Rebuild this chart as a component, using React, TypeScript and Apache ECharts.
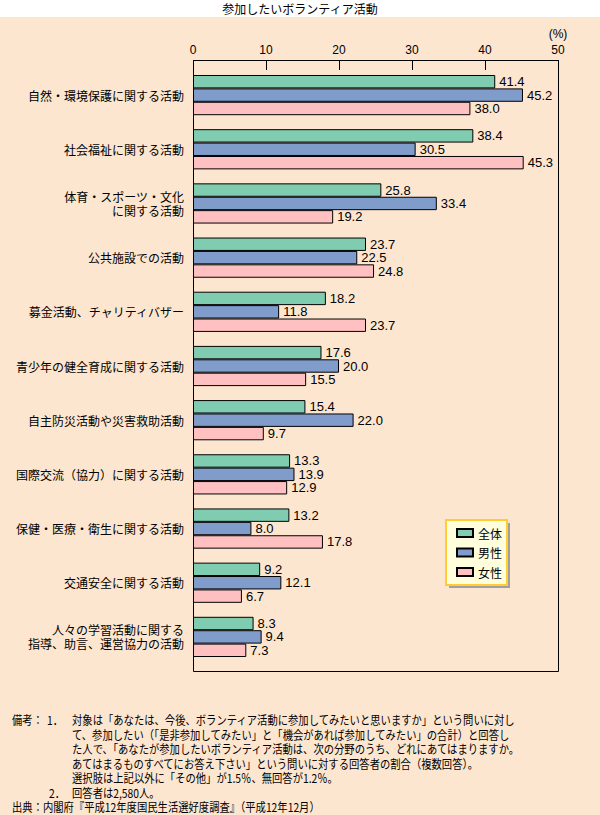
import React, { useEffect, useRef } from "react";
import * as echarts from "echarts";

const categories = [
  "自然・環境保護に関する活動",
  "社会福祉に関する活動",
  "体育・スポーツ・文化\nに関する活動",
  "公共施設での活動",
  "募金活動、チャリティバザー",
  "青少年の健全育成に関する活動",
  "自主防災活動や災害救助活動",
  "国際交流（協力）に関する活動",
  "保健・医療・衛生に関する活動",
  "交通安全に関する活動",
  "人々の学習活動に関する\n指導、助言、運営協力の活動",
];
const seriesNames = ["全体", "男性", "女性"];
const totalValues = [41.4, 38.4, 25.8, 23.7, 18.2, 17.6, 15.4, 13.3, 13.2, 9.2, 8.3];
const maleValues = [45.2, 30.5, 33.4, 22.5, 11.8, 20.0, 22.0, 13.9, 8.0, 12.1, 9.4];
const femaleValues = [38.0, 45.3, 19.2, 24.8, 23.7, 15.5, 9.7, 12.9, 17.8, 6.7, 7.3];
const xTicks = { min: 0, max: 50, interval: 10 };
const title = "参加したいボランティア活動";
const unitLabel = "(%)";
const noteLines: [number, string][] = [
  [72, "対象は「あなたは、今後、ボランティア活動に参加してみたいと思いますか」という問いに対し"],
  [72, "て、参加したい（「是非参加してみたい」と「機会があれば参加してみたい」の合計）と回答し"],
  [72, "た人で、「あなたが参加したいボランティア活動は、次の分野のうち、どれにあてはまりますか。"],
  [72, "あてはまるものすべてにお答え下さい」という問いに対する回答者の割合（複数回答）。"],
  [72, "選択肢は上記以外に「その他」が1.5％、無回答が1.2％。"],
  [72, "回答者は2,580人。"],
  [12, "出典：内閣府『平成12年度国民生活選好度調査』（平成12年12月）"],
];
const notePrefixes: [number, number, string][] = [
  [12, 0, "備考："],
  [47, 0, "1．"],
  [49, 5, "2．"],
];

const colors = ["#80CCB0", "#7F9CCB", "#FFC0C2"];
const JP = "'Noto Sans CJK JP', sans-serif";
const NUM = "'Liberation Sans', Arial, sans-serif";

export default function App() {
  const ref = useRef<HTMLDivElement>(null);
  useEffect(() => {
    if (!ref.current) return;
    const chart = echarts.init(ref.current, null, { renderer: "svg" });
    const values = [totalValues, maleValues, femaleValues];
    const noteY0 = 720;
    const noteStep = 14.5;
    const graphics: any[] = [
      { type: "rect", z: -10, shape: { x: 0, y: 17, width: 600, height: 798 }, style: { fill: "#FDE6CF" } },
      {
        type: "text", x: 300, y: 8,
        style: { text: title, fontSize: 12, fontFamily: JP, fill: "#000", align: "center", verticalAlign: "middle" },
      },
      {
        type: "text", x: 558, y: 34,
        style: { text: unitLabel, fontSize: 12, fontFamily: NUM, fill: "#000", align: "center", verticalAlign: "middle" },
      },
      {
        type: "rect", z: 10,
        shape: { x: 193.5, y: 60.5, width: 365, height: 611 },
        style: { fill: "none", stroke: "#000", lineWidth: 1 },
      },
      { type: "rect", z: 1, shape: { x: 449, y: 523, width: 61, height: 65 }, style: { fill: "#A0A0A0" } },
      {
        type: "rect", z: 2,
        shape: { x: 446, y: 520, width: 61, height: 65 },
        style: { fill: "#FFFFDD", stroke: "#FFCC33", lineWidth: 2 },
      },
    ];
    noteLines.forEach(([x, t], i) => {
      graphics.push({
        type: "text", x, y: noteY0 + i * noteStep, scaleX: 0.86,
        style: { text: t, fontSize: 12, fontFamily: JP, fill: "#000", verticalAlign: "middle" },
      });
    });
    notePrefixes.forEach(([x, line, t]) => {
      graphics.push({
        type: "text", x, y: noteY0 + line * noteStep, scaleX: 0.86,
        style: { text: t, fontSize: 12, fontFamily: JP, fill: "#000", verticalAlign: "middle" },
      });
    });

    chart.setOption({
      animation: false,
      backgroundColor: "#FFFFFF",
      grid: { left: 193, width: 365, top: 68, height: 596, containLabel: false },
      xAxis: {
        type: "value",
        position: "top",
        offset: 8,
        min: xTicks.min,
        max: xTicks.max,
        interval: xTicks.interval,
        axisLine: { show: false },
        axisTick: { show: true, inside: true, length: 10, lineStyle: { color: "#000", width: 1 } },
        axisLabel: { color: "#000", fontSize: 12, fontFamily: NUM, margin: 4 },
        splitLine: { show: false },
      },
      yAxis: {
        type: "category",
        inverse: true,
        data: categories,
        axisLine: { show: false },
        axisTick: { show: false },
        axisLabel: { color: "#000", fontSize: 12, fontFamily: JP, margin: 9, lineHeight: 14, align: "right" },
      },
      legend: {
        data: seriesNames,
        orient: "vertical",
        left: 456,
        top: 527,
        itemWidth: 16,
        itemHeight: 8,
        itemGap: 7.5,
        icon: "rect",
        padding: 0,
        textStyle: { color: "#000", fontSize: 12, fontFamily: JP },
      },
      graphic: { elements: graphics },
      series: seriesNames.map((name, i) => ({
        name,
        type: "bar",
        data: values[i],
        barWidth: 13.4,
        barGap: "0%",
        itemStyle: { color: colors[i], borderColor: "#000", borderWidth: 1 },
        label: {
          show: true,
          position: "right",
          distance: 4,
          color: "#000",
          fontSize: 13,
          fontFamily: NUM,
          formatter: (p: any) => Number(p.value).toFixed(1),
        },
      })),
    });
    return () => chart.dispose();
  }, []);
  return (
    <div
      ref={ref}
      style={{ position: "fixed", left: 0, top: 0, width: 600, height: 815 }}
    />
  );
}
